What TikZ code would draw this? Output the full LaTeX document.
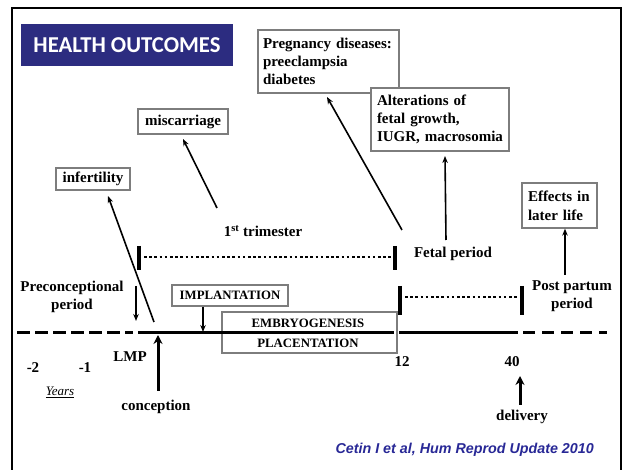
\documentclass[tikz,border=0pt]{standalone}
\usepackage{fontspec}
\setmainfont{Liberation Serif}
\newfontfamily\titlefont{Carlito}
\newfontfamily\citefont{Liberation Sans}
\usetikzlibrary{arrows.meta}
\definecolor{titleblue}{RGB}{44,44,128}
\definecolor{citeblue}{RGB}{40,40,150}
\definecolor{boxgray}{RGB}{125,125,125}
\begin{document}
\begin{tikzpicture}[x=1pt,y=-1pt,
  lbl/.style={font=\fontsize{15}{18}\selectfont\bfseries, inner sep=0pt, align=center},
  obox/.style={draw=boxgray, line width=1.3pt, fill=white, inner sep=0pt,
    font=\fontsize{15}{18}\selectfont\bfseries, align=left},
  capsbox/.style={draw=boxgray, line width=1.3pt, fill=white, inner sep=0pt,
    font=\fontsize{12.8}{15}\selectfont\bfseries},
  capslbl/.style={font=\fontsize{12.8}{15}\selectfont\bfseries, inner sep=0pt},
  arr/.style={line width=1.6pt, -{Stealth[length=7pt,width=5.5pt]}},
  bigarr/.style={line width=3pt, -{Stealth[length=9pt,width=9pt]}},
  tline/.style={line width=3pt},
  endbar/.style={line width=3.2pt},
  dotline/.style={line width=2.6pt, dash pattern=on 2.6pt off 2.6pt},
  frame/.style={line width=2.5pt, black}
]
\useasboundingbox (0,0) rectangle (625,470);
% outer frame
\coordinate (f1) at (12,470);
\coordinate (f2) at (12,8);
\coordinate (f3) at (621,8);
\coordinate (f4) at (621,470);
\draw[frame] (f1) -- (f2) -- (f3) -- (f4);

% title
\node[fill=titleblue, minimum width=212pt, minimum height=42pt, inner sep=0pt,
  text=white, font=\titlefont\fontsize{22.7}{26}\selectfont\bfseries] (title) at (127,45) {HEALTH OUTCOMES};

% outcome boxes
\node[obox, minimum width=141pt, minimum height=63pt, text width=131pt] (preg) at (328.5,61.5)
  {Pregnancy diseases:\\preeclampsia\\diabetes};
\node[obox, minimum width=138pt, minimum height=63pt, text width=126pt] (alt) at (440,119.5)
  {Alterations of\\fetal growth,\\IUGR, macrosomia};
\node[obox, minimum width=90pt, minimum height=25pt, align=center] (misc) at (183,121.5) {miscarriage};
\node[obox, minimum width=74pt, minimum height=22pt, align=center] (inf) at (93,179) {infertility};
\node[obox, minimum width=75pt, minimum height=45pt, text width=63pt, font=\fontsize{15}{19}\selectfont\bfseries] (eff) at (559.5,205.5)
  {Effects in\\later life};

% phase labels
\node[lbl] (tri) at (263,231) {1\textsuperscript{st} trimester};
\node[lbl] (fetal) at (453,254) {Fetal period};
\node[lbl] (post) at (572,296) {Post partum\\period};
\node[lbl] (pre) at (72,297) {Preconceptional\\period};

% implantation and embryogenesis boxes
\node[capsbox, minimum width=116pt, minimum height=21pt] (impl) at (230,295.5) {IMPLANTATION};
\node[draw=boxgray, line width=1.3pt, fill=white, minimum width=175pt, minimum height=41pt, inner sep=0pt] (emb) at (309.5,332.5) {};
\node[capslbl] (embt) at (308,323) {EMBRYOGENESIS};
\node[capslbl] (plac) at (308,343) {PLACENTATION};

% timeline
\coordinate (tl0) at (17,333);
\coordinate (tl1) at (133,333);
\coordinate (tl2) at (138,333);
\coordinate (tl3) at (394,333);
\coordinate (tl4) at (399,333);
\coordinate (tl5) at (518,333);
\coordinate (tl6) at (523,333);
\coordinate (tl7) at (607,333);
\draw[tline, dash pattern=on 13pt off 5pt] (tl0) -- (tl1);
\draw[tline] (tl2) -- (tl3);
\draw[tline] (tl4) -- (tl5);
\draw[tline, dash pattern=on 12pt off 7pt] (tl6) -- (tl7);

% period bars
\coordinate (t1a) at (139,246); \coordinate (t1b) at (139,270);
\coordinate (t2a) at (395,246); \coordinate (t2b) at (395,270);
\coordinate (p1a) at (400,286); \coordinate (p1b) at (400,315);
\coordinate (p2a) at (522,286); \coordinate (p2b) at (522,315);
\draw[endbar] (t1a) -- (t1b);
\draw[endbar] (t2a) -- (t2b);
\draw[endbar] (p1a) -- (p1b);
\draw[endbar] (p2a) -- (p2b);
\coordinate (d1a) at (144,257); \coordinate (d1b) at (391,257);
\coordinate (d2a) at (405,297); \coordinate (d2b) at (518,297);
\draw[dotline] (d1a) -- (d1b);
\draw[dotline] (d2a) -- (d2b);

% outcome arrows
\coordinate (infS) at (154,322); \coordinate (infT) at (108,196);
\draw[arr] (infS) -- (infT);
\coordinate (misS) at (217,208); \coordinate (misT) at (183,139);
\draw[arr] (misS) -- (misT);
\coordinate (prgS) at (402,230); \coordinate (prgT) at (327,97);
\draw[arr] (prgS) -- (prgT);
\coordinate (altS) at (446,240); \coordinate (altT) at (445,156);
\draw[arr] (altS) -- (altT);
\coordinate (effS) at (565,275);
\draw[arr] (effS) -- (eff.south -| effS);
\coordinate (preS) at (136,286); \coordinate (preT) at (136,321);
\draw[arr] (preS) -- (preT);
\coordinate (impT) at (203,332);
\draw[arr] (impl.south -| impT) -- (impT);

% axis labels
\node[lbl] (m2) at (33,368) {-2};
\node[lbl] (m1) at (85,368) {-1};
\node[font=\fontsize{13}{15}\selectfont\itshape, inner sep=0pt] (yrs) at (60,392) {\underline{Years}};
\node[lbl] (lmp) at (130,357) {LMP};
\node[lbl] (w12) at (402,362) {12};
\node[lbl] (w40) at (512,362) {40};
\node[lbl] (conc) at (156,407) {conception};
\node[lbl] (deliv) at (522,417) {delivery};
\coordinate (concS) at (158,391); \coordinate (concT) at (158,335);
\draw[bigarr] (concS) -- (concT);
\coordinate (delS) at (520,405); \coordinate (delT) at (520,376);
\draw[bigarr] (delS) -- (delT);

% citation
\node[anchor=east, inner sep=0pt, text=citeblue, font=\citefont\fontsize{14.3}{16}\selectfont\bfseries\itshape] (cite) at (594,450)
  {Cetin I et al, Hum Reprod Update 2010};
\end{tikzpicture}
\end{document}
